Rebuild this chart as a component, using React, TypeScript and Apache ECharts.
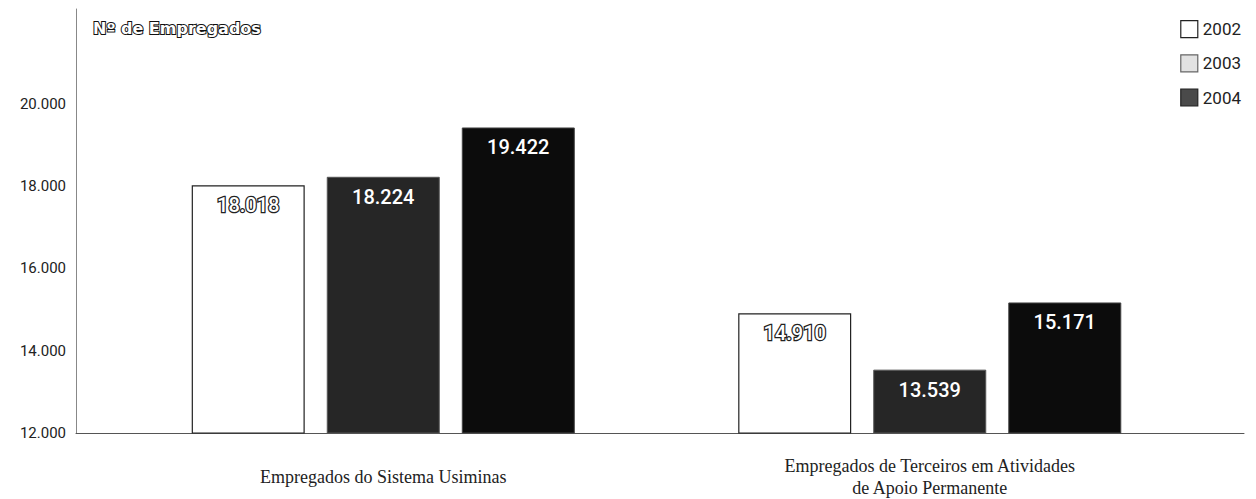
import React, { useEffect, useRef } from "react";
import * as echarts from "echarts";

const categories = [
  "Empregados do Sistema Usiminas",
  "Empregados de Terceiros em Atividades\nde Apoio Permanente",
];
const years = ["2002", "2003", "2004"];
const values2002 = [18018, 14910];
const values2003 = [18224, 13539];
const values2004 = [19422, 15171];
const yTicks = [12000, 14000, 16000, 18000, 20000];

const fmt = (v: number) => {
  const s = String(Math.round(v));
  return s.replace(/\B(?=(\d{3})+(?!\d))/g, ".");
};

export default function App() {
  const ref = useRef<HTMLDivElement>(null);
  useEffect(() => {
    if (!ref.current) return;
    const chart = echarts.init(ref.current, null, { renderer: "svg" });
    const yMin = 12000;
    const yMax = 22300;
    const barW = 113;
    const labelBase = {
      show: true,
      position: "insideTop" as const,
      distance: 10,
      fontFamily: "Roboto",
      fontSize: 20,
      fontWeight: 500 as const,
      formatter: (p: any) => fmt(p.value),
    };
    chart.setOption({
      animation: false,
      backgroundColor: "#ffffff",
      title: {
        text: "Nº de Empregados",
        left: 88,
        top: 15,
        textStyle: {
          fontFamily: "DejaVu Sans",
          fontWeight: "bold",
          fontSize: 16,
          color: "#ffffff",
          textBorderColor: "#111111",
          textBorderWidth: 2,
        },
      },
      legend: {
        orient: "vertical",
        right: 10,
        top: 15,
        itemWidth: 17,
        itemHeight: 17,
        itemGap: 16,
        icon: "rect",
        textStyle: { fontFamily: "Roboto", fontSize: 17, color: "#222" },
        data: [
          { name: years[0], itemStyle: { color: "#ffffff", borderColor: "#222", borderWidth: 1.2 } },
          { name: years[1], itemStyle: { color: "#e2e2e2", borderColor: "#666", borderWidth: 1.2 } },
          { name: years[2], itemStyle: { color: "#4a4a4a", borderColor: "#222", borderWidth: 1.2 } },
        ],
      },
      grid: [
        { left: 110, right: 53, top: 9, bottom: 66 },
        { left: 76, right: 12, top: 9, bottom: 66 },
      ],
      xAxis: [
        {
          type: "category",
          gridIndex: 0,
          data: categories,
          axisLine: { show: false },
          axisTick: { show: false },
          axisLabel: {
            margin: 44,
            verticalAlign: "middle",
            fontFamily: "Liberation Serif",
            fontSize: 18,
            lineHeight: 22,
            color: "#222",
          },
        },
        {
          type: "value",
          gridIndex: 1,
          axisLine: { show: true, lineStyle: { color: "#555", width: 1 } },
          axisTick: { show: false },
          axisLabel: { show: false },
          splitLine: { show: false },
        },
      ],
      yAxis: [
        {
          type: "value",
          gridIndex: 0,
          min: yMin,
          max: yMax,
          interval: 2000,
          show: false,
          splitLine: { show: false },
        },
        {
          type: "value",
          gridIndex: 1,
          min: yMin,
          max: yMax,
          interval: 2000,
          axisLine: { show: true, lineStyle: { color: "#888", width: 1 } },
          axisTick: { show: false },
          splitLine: { show: false },
          axisLabel: {
            margin: 10,
            fontFamily: "Roboto",
            fontSize: 15,
            color: "#222",
            formatter: (v: number) => (yTicks.includes(v) ? fmt(v) : ""),
          },
        },
      ],
      series: [
        {
          name: years[0],
          type: "bar",
          xAxisIndex: 0,
          yAxisIndex: 0,
          data: values2002,
          barWidth: barW,
          barGap: "19.5%",
          itemStyle: { color: "#ffffff", borderColor: "#222", borderWidth: 1.2 },
          label: {
            ...labelBase,
            color: "#ffffff",
            textBorderColor: "#222",
            textBorderWidth: 2.5,
          },
        },
        {
          name: years[1],
          type: "bar",
          xAxisIndex: 0,
          yAxisIndex: 0,
          data: values2003,
          barWidth: barW,
          barGap: "19.5%",
          itemStyle: { color: "#262626", borderColor: "#555", borderWidth: 1 },
          label: { ...labelBase, color: "#ffffff" },
        },
        {
          name: years[2],
          type: "bar",
          xAxisIndex: 0,
          yAxisIndex: 0,
          data: values2004,
          barWidth: barW,
          barGap: "19.5%",
          itemStyle: { color: "#0c0c0c", borderColor: "#444", borderWidth: 1 },
          label: { ...labelBase, color: "#ffffff" },
        },
      ],
    });
    return () => chart.dispose();
  }, []);
  return (
    <div
      ref={ref}
      style={{ position: "fixed", left: 0, top: 0, width: 1256, height: 499, background: "#fff" }}
    />
  );
}
